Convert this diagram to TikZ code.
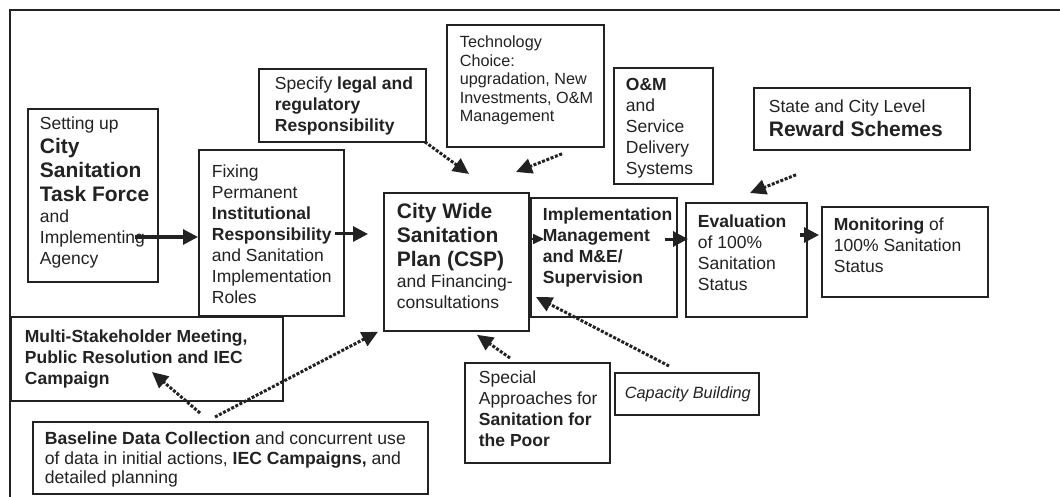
\documentclass[tikz,border=0pt]{standalone}
\usepackage{fontspec}
\setmainfont{Liberation Sans}
\usetikzlibrary{arrows.meta,calc}
\definecolor{ink}{HTML}{222222}
\newcommand\rg{\fontsize{17.5}{21}\selectfont}
\newcommand\bg{\fontsize{21}{24}\selectfont\bfseries}
\newcommand\smf{\fontsize{16.2}{18.5}\selectfont}
\newcommand\bxt[5]{\parbox[t][#2pt][t]{#1pt}{\raggedright\leftskip=#3pt\relax\rightskip=-40pt plus 1fil\relax\rg\vspace*{#4pt}#5}}
\tikzset{
  bx/.style={draw=ink, line width=1.8pt, inner sep=0pt, anchor=north west, text=ink},
  frame/.style={draw=ink, line width=1.5pt},
  solidarrow/.style={draw=ink, line width=3pt, -{Triangle[length=15pt,width=15pt]}},
  smallarrow/.style={draw=ink, line width=2pt, -{Triangle[length=11pt,width=10pt]}},
  dotarrow/.style={draw=ink, line width=3pt, dash pattern=on 3pt off 1.6pt, -{Triangle[length=16pt,width=15pt]}}
}
\begin{document}
\begin{tikzpicture}[x=1pt,y=-1pt]
\useasboundingbox (0,0) rectangle (1060,497);
\fill[white] (0,0) rectangle (1060,497);
\draw[frame] (1062,10) -- (10,10) -- (10,499);

\node[bx] (s1) at (27,108) {\bxt{130}{173}{12}{8.2}{Setting up\\{\bg City\\Sanitation\\Task Force\\}and\\Implementing\\Agency}};
\node[bx] (s2) at (198,149) {\bxt{145}{166}{13}{15.2}{Fixing\\Permanent\\\textbf{Institutional}\\\textbf{Responsibility}\\and Sanitation\\Implementation\\Roles}};
\node[bx] (spec) at (258,68) {\bxt{167}{73}{16}{8.2}{Specify \textbf{legal and}\\\textbf{regulatory}\\\textbf{Responsibility}}};
\node[bx] (tech) at (446,24) {\bxt{157}{122}{13}{11.2}{\smf Technology\\Choice:\\upgradation, New\\Investments, O\&M\\Management}};
\node[bx] (om) at (613,67) {\bxt{99}{116}{12}{10.2}{\textbf{O\&M}\\and\\Service\\Delivery\\Systems}};
\node[bx] (rew) at (753,87) {\bxt{216}{62}{15}{12.2}{State and City Level\\{\bg Reward Schemes\\}}};
\node[bx] (csp) at (383,192) {\bxt{145}{138}{13}{10.7}{{\bg City Wide\\Sanitation\\Plan (CSP)\\}and Financing-\\consultations}};
\node[bx] (impl) at (530,197) {\bxt{146}{119}{12}{10.2}{\bfseries Implementation\\Management\\and M\&E/\\Supervision}};
\node[bx] (eval) at (685,202) {\bxt{121}{114}{12}{12.2}{\textbf{Evaluation}\\of 100\%\\Sanitation\\Status}};
\node[bx] (mon) at (821,206) {\bxt{166}{90}{12}{11.2}{\textbf{Monitoring} of\\100\% Sanitation\\Status}};
\node[bx] (multi) at (10,316) {\bxt{272}{84}{14}{13.2}{\bfseries Multi-Stakeholder Meeting,\\Public Resolution and IEC\\Campaign}};
\node[bx] (base) at (32,421) {\bxt{395}{72}{12}{10.2}{\fontsize{17.6}{19.5}\selectfont\textbf{Baseline Data Collection} and concurrent use\\of data in initial actions, \textbf{IEC Campaigns,} and\\detailed planning}};
\node[bx] (poor) at (464,362) {\bxt{145}{100}{14}{8.2}{Special\\Approaches for\\\textbf{Sanitation for}\\\textbf{the Poor}}};
\node[bx] (cap) at (614,372) {\bxt{144}{42}{10}{14.1}{\fontsize{16.3}{19}\selectfont\itshape Capacity Building}};

% solid arrows
\draw[solidarrow] ($(s1.north east)+(-24,129)$) -- ($(s2.north west)+(0,88)$);
\draw[solidarrow] ($(s2.north east)+(-10,85)$) -- ($(csp.north west)+(-15,42)$);
\draw[smallarrow] ($(csp.north east)+(0,47)$) -- ($(impl.north west)+(14,42)$);
\draw[solidarrow] ($(impl.north east)+(-13,42)$) -- ($(eval.north west)+(3,37)$);
\draw[solidarrow] ($(eval.north east)+(-8,33)$) -- ($(mon.north west)+(-2,29)$);

% dotted arrows
\draw[dotarrow] ($(spec.south east)+(-2,-1)$) -- ($(csp.north west)+(86,-18)$);
\draw[dotarrow] ($(tech.south west)+(116,6)$) -- ($(csp.north west)+(133,-20)$);
\draw[dotarrow] ($(rew.south west)+(43,24)$) -- ($(eval.north west)+(65,-9)$);
\draw[dotarrow] ($(base.north west)+(168,-8)$) -- ($(multi.north west)+(142,56)$);
\draw[dotarrow] ($(base.north west)+(183,-4)$) -- ($(csp.south west)+(-5,0)$);
\draw[dotarrow] ($(poor.north west)+(46,-4)$) -- ($(csp.south west)+(94,3)$);
\draw[dotarrow] ($(cap.north west)+(55,-6)$) -- ($(impl.north west)+(6,100)$);
\end{tikzpicture}
\end{document}
